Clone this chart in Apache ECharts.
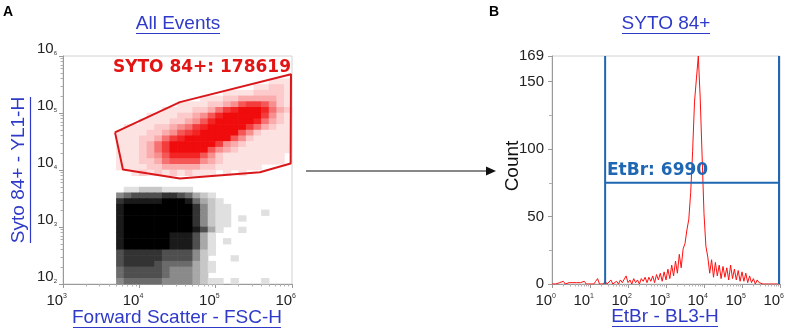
<!DOCTYPE html>
<html>
<head>
<meta charset="utf-8">
<script src="https://cdn.jsdelivr.net/npm/echarts@6/dist/echarts.min.js"></script>
<style>
html, body { margin: 0; padding: 0; background: #fff; }
#chart { width: 787px; height: 332px; }
</style>
</head>
<body>
<div id="chart"></div>
<script>
// ---- panel A: dot plot, read off as density cells of 0.1 decade ----
// x: FSC-H from 10^3, y: YL1-H from 10^6 (row 0 at top), levels 1..9
const fscStart = 3
const yl1Top = 6
const cellStep = 0.1

// [first column, levels per column] one entry per row, starting at redFirstRow
const redFirstRow = 4
const redRows = [
  [27, '111'],
  [25, '11221'],
  [21, '111122221'],
  [18, '111223333321'],
  [15, '111122346776421'],
  [13, '11112235789998532'],
  [11, '1111223468999997421'],
  [10, '11112234689999985321'],
  [8, '1111223457899999753211'],
  [7, '11112234678999996421111'],
  [7, '11122357899999964211111'],
  [7, '11123579999997432111111'],
  [7, '11123579999964321111111'],
  [7, '1112346888864211111111'],
  [7, '1112235666643211111111'],
  [7, '1111223333322111111'],
  [9, '12121212111.1.1']
]

const blackFirstRow = 23
const blackRows = [
  [8, '112221111'],
  [7, '4566667765321'],
  [7, '78888899985321'],
  [7, '899999999974211'],
  [7, '899999999974211....1'],
  [7, '899999999974211.1'],
  [7, '899999999974211'],
  [7, '89999999998631..1'],
  [7, '8999999888631'],
  [7, '8999999888631.1'],
  [7, '8999999888631'],
  [7, '6777776666421'],
  [7, '677777666642...1'],
  [7, '6777765555321'],
  [7, '5666665444321'],
  [7, '566666544432'],
  [7, '45555544443211.1...1']
]

// SYTO 84+ gate polygon
const gateFsc = [4800, 34000, 9.7e5, 9.6e5, 380000, 34000, 6100, 4800]
const gateYl1 = [45700, 155000, 480000, 13000, 9100, 7100, 10200, 45700]

// ---- panel B: EtBr histogram, bins of 0.05 decade from 10^0 ----
const histLogStart = 0
const histLogStep = 0.05
const histCounts = [
  0, 1, 0, 0, 1, 0, 2, 0, 0, 1,
  0, 1, 0, 1, 0, 1, 0, 2, 0, 1,
  0, 1, 0, 2, 4, 0, 1, 0, 2, 0,
  1, 3, 0, 1, 2, 0, 3, 1, 2, 6,
  1, 3, 0, 4, 1, 3, 0, 4, 2, 5,
  1, 5, 2, 6, 1, 7, 3, 8, 2, 9,
  3, 11, 4, 14, 6, 17, 8, 22, 12, 26,
  30, 40, 48, 68, 98, 135, 152, 169, 138, 95,
  52, 28, 20, 8, 18, 5, 16, 6, 14, 4,
  13, 5, 12, 3, 14, 4, 11, 3, 10, 2,
  9, 2, 8, 1, 6, 1, 4, 0, 3, 1,
  2, 0, 1, 0, 1, 0, 0, 0, 1, 0,
  0
]
const etbrGateLow = 25
const etbrGateHigh = 9.4e5
const countGate = 75
const countMax = 169

const alphaByLevel = [0, 0.12, 0.22, 0.34, 0.46, 0.58, 0.69, 0.8, 0.9, 1]

function cellsFrom(rows, firstRow) {
  const out = []
  rows.forEach((row, i) => {
    const col0 = row[0], levels = row[1]
    for (let j = 0; j < levels.length; j++) {
      const lv = levels[j] === '.' ? 0 : +levels[j]
      if (!lv) continue
      const col = col0 + j, r = firstRow + i
      out.push([
        Math.pow(10, fscStart + cellStep * (col + 0.5)),
        Math.pow(10, yl1Top - cellStep * (r + 0.5)),
        lv
      ])
    }
  })
  return out
}

// density level -> solid colour mixed with the white background
function shade(rgb) {
  return p => {
    const a = alphaByLevel[p.value[2]]
    const c = rgb.map(v => Math.round(255 - a * (255 - v)))
    return 'rgb(' + c.join(',') + ')'
  }
}

// log minor tick positions (2..9 of each decade), in decades
function logMinor(a, b) {
  const t = []
  for (let n = a; n < b; n++) {
    for (let k = 2; k < 10; k++) t.push(n + Math.log10(k))
  }
  return t
}

const blue = '#2f3bc8'
const gateBlue = '#1f67b3'
const axisGray = '#9a9a9a'
const labelFont = 'Liberation Sans, Arial, sans-serif'

function expLabel(sup) {
  return {
    color: '#222',
    fontFamily: labelFont,
    formatter: v => '{b|10}{e|' + Math.round(Math.log10(v)) + '}',
    rich: {
      b: { fontSize: 15, fontFamily: labelFont, color: '#222' },
      e: sup
        ? { fontSize: 7, fontFamily: labelFont, color: '#333', verticalAlign: 'top' }
        : { fontSize: 6, fontFamily: labelFont, color: '#333', verticalAlign: 'bottom' }
    }
  }
}

function minorAxis(gridIndex, min, max, position) {
  return {
    type: 'value', gridIndex: gridIndex, min: min, max: max, position: position,
    axisLine: { show: false },
    axisLabel: { show: false },
    splitLine: { show: false },
    axisTick: { show: true, length: 2.5, customValues: logMinor(min, max), lineStyle: { color: '#b0b0b0' } }
  }
}

const histData = histCounts.map((c, i) => [Math.pow(10, histLogStart + histLogStep * i), c])

const myChart = echarts.init(document.getElementById('chart'))

const option = {
  animation: false,
  grid: [
    { left: 63, top: 56, width: 229, height: 228, show: true, borderColor: '#d2d2d2', borderWidth: 1 },
    { left: 552, top: 56, width: 228, height: 228, show: true, borderColor: '#d2d2d2', borderWidth: 1 }
  ],
  xAxis: [
    {
      type: 'log', logBase: 10, gridIndex: 0, min: 1e3, max: 1e6, position: 'bottom',
      axisLine: { lineStyle: { color: axisGray } },
      axisTick: { length: 4, lineStyle: { color: axisGray } },
      splitLine: { show: false },
      axisLabel: Object.assign(expLabel(true), { align: 'right', margin: 9, padding: [0, -4, 0, 0] })
    },
    minorAxis(0, 3, 6, 'bottom'),
    {
      type: 'log', logBase: 10, gridIndex: 1, min: 1, max: 1e6, position: 'bottom',
      axisLine: { lineStyle: { color: axisGray } },
      axisTick: { length: 4, lineStyle: { color: axisGray } },
      splitLine: { show: false },
      axisLabel: Object.assign(expLabel(true), { align: 'right', margin: 9, padding: [0, -4, 0, 0] })
    },
    minorAxis(1, 0, 6, 'bottom')
  ],
  yAxis: [
    {
      type: 'log', logBase: 10, gridIndex: 0, min: 100, max: 1e6, position: 'left',
      axisLine: { lineStyle: { color: axisGray } },
      axisTick: { length: 4, lineStyle: { color: axisGray } },
      splitLine: { show: false },
      axisLabel: Object.assign(expLabel(false), { verticalAlign: 'bottom', margin: 6 })
    },
    minorAxis(0, 2, 6, 'left'),
    {
      type: 'value', gridIndex: 1, min: 0, max: countMax, interval: 50, position: 'left',
      axisLine: { show: true, lineStyle: { color: axisGray } },
      axisTick: { show: true, length: 4, lineStyle: { color: axisGray } },
      minorTick: { show: true, splitNumber: 2, length: 3, lineStyle: { color: '#b0b0b0' } },
      splitLine: { show: false },
      axisLabel: { fontSize: 15, fontFamily: labelFont, color: '#222', margin: 8 }
    }
  ],
  series: [
    {
      name: 'SYTO 84+ events', type: 'scatter', xAxisIndex: 0, yAxisIndex: 0,
      symbol: 'rect', symbolSize: [8.3, 6.3], silent: true,
      itemStyle: { opacity: 1, color: shade([240, 12, 12]) },
      data: cellsFrom(redRows, redFirstRow)
    },
    {
      name: 'other events', type: 'scatter', xAxisIndex: 0, yAxisIndex: 0,
      symbol: 'rect', symbolSize: [8.3, 6.3], silent: true,
      itemStyle: { opacity: 1, color: shade([0, 0, 0]) },
      data: cellsFrom(blackRows, blackFirstRow)
    },
    {
      name: 'gate', type: 'line', xAxisIndex: 0, yAxisIndex: 0, z: 5,
      symbol: 'none', lineStyle: { color: '#d9181c', width: 2 },
      data: gateFsc.map((x, i) => [x, gateYl1[i]])
    },
    {
      name: 'EtBr', type: 'line', xAxisIndex: 2, yAxisIndex: 2,
      symbol: 'none', lineStyle: { color: '#ff1010', width: 1 },
      data: histData
    },
    {
      type: 'line', xAxisIndex: 2, yAxisIndex: 2, symbol: 'none', z: 4,
      lineStyle: { color: gateBlue, width: 2 },
      data: [[etbrGateLow, 0], [etbrGateLow, countMax]]
    },
    {
      type: 'line', xAxisIndex: 2, yAxisIndex: 2, symbol: 'none', z: 4,
      lineStyle: { color: gateBlue, width: 2 },
      data: [[etbrGateHigh, 0], [etbrGateHigh, countMax]]
    },
    {
      type: 'line', xAxisIndex: 2, yAxisIndex: 2, symbol: 'none', z: 4,
      lineStyle: { color: gateBlue, width: 2 },
      data: [[etbrGateLow, countGate], [etbrGateHigh, countGate]]
    }
  ],
  graphic: [
    { type: 'text', x: 3, y: 5, style: { text: 'A', font: 'bold 14px Liberation Sans, Arial', fill: '#000' } },
    { type: 'text', x: 489, y: 5, style: { text: 'B', font: 'bold 14px Liberation Sans, Arial', fill: '#000' } },

    { type: 'text', x: 178, y: 24, style: { text: 'All Events', font: '19px Liberation Sans, Arial', fill: blue, textAlign: 'center', textVerticalAlign: 'middle' } },
    { type: 'line', shape: { x1: 136, y1: 33.5, x2: 220, y2: 33.5 }, style: { stroke: blue, lineWidth: 1.2 } },
    { type: 'text', x: 666, y: 24, style: { text: 'SYTO 84+', font: '19px Liberation Sans, Arial', fill: blue, textAlign: 'center', textVerticalAlign: 'middle' } },
    { type: 'line', shape: { x1: 622, y1: 33.5, x2: 710, y2: 33.5 }, style: { stroke: blue, lineWidth: 1.2 } },

    { type: 'text', x: 177, y: 318, style: { text: 'Forward Scatter - FSC-H', font: '19px Liberation Sans, Arial', fill: blue, textAlign: 'center', textVerticalAlign: 'middle' } },
    { type: 'line', shape: { x1: 73, y1: 327.5, x2: 281, y2: 327.5 }, style: { stroke: blue, lineWidth: 1.2 } },
    { type: 'text', x: 665, y: 317, style: { text: 'EtBr - BL3-H', font: '19px Liberation Sans, Arial', fill: blue, textAlign: 'center', textVerticalAlign: 'middle' } },
    { type: 'line', shape: { x1: 612, y1: 326.5, x2: 718, y2: 326.5 }, style: { stroke: blue, lineWidth: 1.2 } },

    { type: 'text', x: 19, y: 170, rotation: Math.PI / 2, style: { text: 'Syto 84+ - YL1-H', font: '19px Liberation Sans, Arial', fill: blue, textAlign: 'center', textVerticalAlign: 'middle' } },
    { type: 'line', shape: { x1: 30.5, y1: 97, x2: 30.5, y2: 243 }, style: { stroke: blue, lineWidth: 1.2 } },
    { type: 'text', x: 513, y: 166, rotation: Math.PI / 2, style: { text: 'Count', font: '19px Liberation Sans, Arial', fill: '#111', textAlign: 'center', textVerticalAlign: 'middle' } },

    { type: 'text', x: 291, y: 68, z: 10, style: { text: 'SYTO 84+: 178619', font: 'bold 17px DejaVu Sans, Verdana', fill: '#e31414', textAlign: 'right', textVerticalAlign: 'middle' } },
    { type: 'text', x: 607, y: 171, z: 10, style: { text: 'EtBr: 6990', font: 'bold 17px DejaVu Sans, Verdana', fill: gateBlue, textAlign: 'left', textVerticalAlign: 'middle' } },

    { type: 'line', shape: { x1: 306, y1: 171, x2: 488, y2: 171 }, style: { stroke: '#111', lineWidth: 1 } },
    { type: 'polygon', shape: { points: [[486, 166.5], [496, 171], [486, 175.5]] }, style: { fill: '#111' } }
  ]
}

myChart.setOption(option)
</script>
</body>
</html>
